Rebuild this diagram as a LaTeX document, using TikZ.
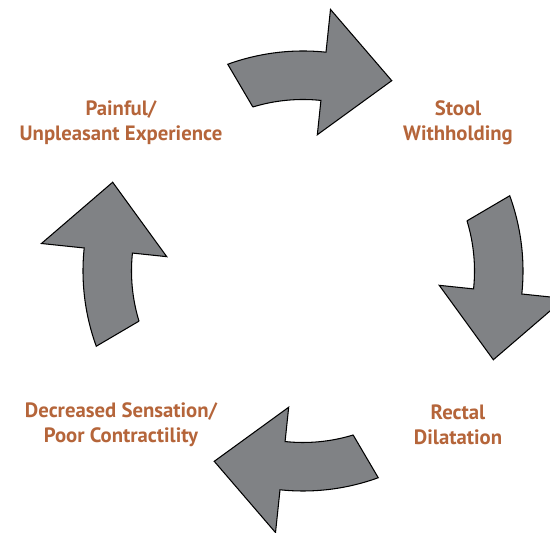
\documentclass[tikz,border=0pt]{standalone}
\usepackage{fontspec}
\setmainfont{PT Sans}
\usetikzlibrary{positioning, calc}
\definecolor{GrayA}{HTML}{808285}
\definecolor{BrownA}{HTML}{B5653A}
\tikzset{
  stage/.style={align=center, text=BrownA, inner sep=0pt,
                font=\bfseries\fontsize{11.8}{14.2}\selectfont},
  cyc/.style={fill=GrayA, draw=black, line width=0.6pt, line join=miter}
}
% one curved block arrow of the cycle, turned by #1 degrees
\newcommand{\cycarrow}[1]{%
  \draw[cyc, rotate=#1]
    (107:3.43) -- (110:4.40) arc[start angle=110, end angle=84, radius=4.40]
    -- (84:5.26) -- (65:4.20) -- (84:2.74) -- (84:3.43)
    arc[start angle=84, end angle=107, radius=3.43] -- cycle;}

\begin{document}
\begin{tikzpicture}

  \useasboundingbox (0,0) rectangle (11,10.66);

  % ----- Stages of the cycle -----
  \node[stage] (pain) at (2.42,8.21) {Painful/\\Unpleasant Experience};
  \node[stage] (stool) at (9.16,8.21) {Stool\\Withholding};
  \node[stage] (rect) at (9.16,2.16) {Rectal\\Dilatation};
  \node[stage] (sens) at (2.42,2.16) {Decreased Sensation/\\Poor Contractility};

  % ----- Curved arrows round the centre -----
  \begin{scope}[shift={(6.06,5.24)}]
    \cycarrow{0}
    \cycarrow{-90}
    \cycarrow{-180}
    \cycarrow{-270}
  \end{scope}

\end{tikzpicture}
\end{document}
